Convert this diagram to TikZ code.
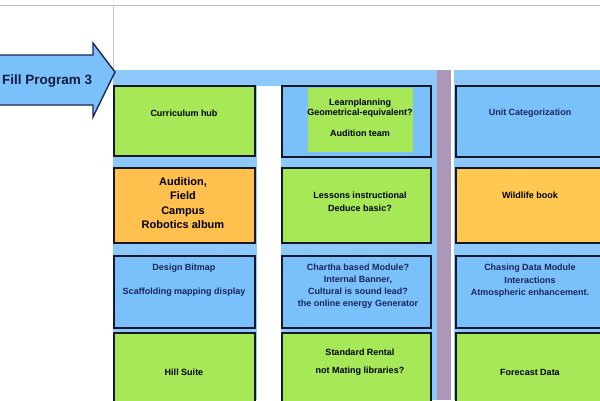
\documentclass[tikz,border=0pt]{standalone}
\usepackage{fontspec}
\setmainfont{Liberation Sans}
\definecolor{lime}{RGB}{166,232,88}
\definecolor{orng}{RGB}{255,192,78}
\definecolor{yorng}{RGB}{255,200,80}
\definecolor{lblue}{RGB}{122,192,250}
\definecolor{band}{RGB}{140,200,250}
\definecolor{mauve}{RGB}{172,152,182}
\definecolor{navy}{RGB}{26,38,92}
\definecolor{edge}{RGB}{20,24,40}
\definecolor{gline}{RGB}{190,190,190}
\tikzset{
  cell/.style={draw=edge, line width=1.6pt, rectangle, inner sep=0pt},
  gbox/.style={cell, fill=lime},
  obox/.style={cell, fill=orng},
  bbox/.style={cell, fill=lblue},
  txt/.style={font=\bfseries\fontsize{9}{11}\selectfont, align=center, inner sep=0pt, text=black},
  btxt/.style={txt, text=navy},
  col1/.style={minimum width=141pt},
  col2/.style={minimum width=149pt},
  col3/.style={minimum width=164pt},
}
\begin{document}
\begin{tikzpicture}[x=1pt,y=-1pt]
\useasboundingbox (0,0) rectangle (600,400);
\clip (0,0) rectangle (600,400);
\fill[white] (0,0) rectangle (600,400);
% frame lines
\coordinate (tl) at (0,5);
\coordinate (tr) at (600,5);
\coordinate (vt) at (113,5);
\coordinate (vb) at (113,70);
\draw[gline, line width=0.8pt] (tl) -- (tr);
\draw[gline, line width=0.8pt] (vt) -- (vb);
% column backgrounds
\fill[band] (113,70) rectangle (600,86);
\fill[band] (113,86) rectangle (257,400);
\fill[band] (281,86) rectangle (437,400);
\fill[band] (454,86) rectangle (600,400);
\fill[mauve] (437,70) rectangle (451,400);
\fill[white] (451,70) rectangle (454,400);
% arrow
\draw[draw=navy, line width=1.4pt, fill=lblue, line join=miter]
  (-5,55) -- (93,55) -- (93,43) -- (115,72) -- (93,117) -- (93,105) -- (-5,105) -- cycle;
\node[font=\bfseries\fontsize{13.5}{16}\selectfont, text=navy!70!black, anchor=west, inner sep=0pt] (arrowtxt) at (2,81) {Fill Program 3};
% column 1
\node[gbox, col1, minimum height=70pt] (c1r1) at (184.5,121) {};
\node[obox, col1, minimum height=75pt] (c1r2) at (184.5,205.5) {};
\node[bbox, col1, minimum height=72pt] (c1r3) at (184.5,292) {};
\node[gbox, col1, minimum height=87pt] (c1r4) at (184.5,376.5) {};
% column 2
\node[bbox, col2, minimum height=71pt] (c2r1) at (356.5,121.5) {};
\fill[lime] (308,88) rectangle (413,152);
\node[gbox, col2, minimum height=75pt] (c2r2) at (356.5,205.5) {};
\node[bbox, col2, minimum height=72pt] (c2r3) at (356.5,292) {};
\node[gbox, col2, minimum height=87pt] (c2r4) at (356.5,376.5) {};
% column 3
\node[bbox, col3, minimum height=71pt] (c3r1) at (538,121.5) {};
\node[cell, fill=yorng, col3, minimum height=75pt] (c3r2) at (538,205.5) {};
\node[bbox, col3, minimum height=72pt] (c3r3) at (538,292) {};
\node[gbox, col3, minimum height=87pt] (c3r4) at (538,376.5) {};
% texts column 1
\node[txt] (t11) at (184,113) {Curriculum hub};
\node[txt, font=\bfseries\fontsize{11}{14.5}\selectfont] (t12) at (183,203) {Audition,\\Field\\Campus\\Robotics album};
\node[btxt] (t13a) at (184,268) {Design Bitmap};
\node[btxt] (t13b) at (184,292) {Scaffolding mapping display};
\node[txt] (t14) at (184,372) {Hill Suite};
% texts column 2
\node[txt, font=\bfseries\fontsize{9}{10.5}\selectfont] (t21a) at (360,108) {Learnplanning\\Geometrical-equivalent?};
\node[txt] (t21b) at (360,133) {Audition team};
\node[txt, font=\bfseries\fontsize{9}{13}\selectfont] (t22) at (360,202) {Lessons instructional\\Deduce basic?};
\node[btxt, font=\bfseries\fontsize{9}{12}\selectfont] (t23) at (358,286) {Chartha based Module?\\Internal Banner,\\Cultural is sound lead?\\the online energy Generator};
\node[txt, font=\bfseries\fontsize{9}{18}\selectfont] (t24) at (360,362) {Standard Rental\\not Mating libraries?};
% texts column 3
\node[btxt] (t31) at (530,113) {Unit Categorization};
\node[txt] (t32) at (530,195) {Wildlife book};
\node[btxt, font=\bfseries\fontsize{9}{12.5}\selectfont] (t33) at (530,281) {Chasing Data Module\\Interactions\\Atmospheric enhancement.};
\node[txt] (t34) at (530,372) {Forecast Data};
\end{tikzpicture}
\end{document}
